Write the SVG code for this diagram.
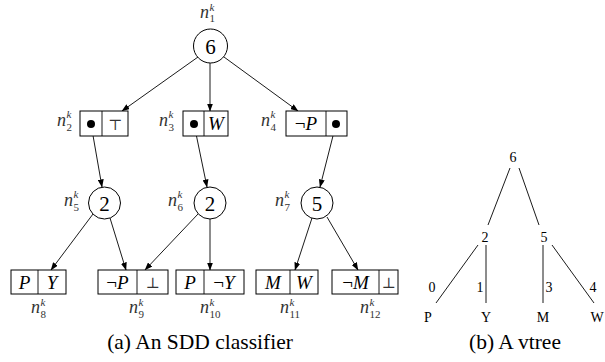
<svg xmlns="http://www.w3.org/2000/svg" width="605" height="362" viewBox="0 0 605 362">
<style>
text{font-family:"Liberation Serif","Times New Roman","DejaVu Serif",serif}
.box{fill:#fff;stroke:#000;stroke-width:1}
.circ{fill:#fff;stroke:#000;stroke-width:1}
.dot{fill:#000}
.num{font-size:21px;text-anchor:middle;fill:#000}
.cell{font-size:19px;font-style:italic;text-anchor:middle;fill:#000}
.sym{font-family:"DejaVu Serif",serif;font-size:15px;text-anchor:middle;fill:#333}
.n{font-size:18px;font-style:italic;fill:#333}
.s{font-size:11px;fill:#333}
.sk{font-size:11px;font-style:italic;fill:#333}
.cap{font-size:21.5px;text-anchor:middle;fill:#000}
.vt{font-size:14px;text-anchor:middle;fill:#000}
.edge{stroke:#000;stroke-width:0.9;fill:none}
.vedge{stroke:#000;stroke-width:0.9;fill:none}
</style>
<defs>
<marker id="ah" markerWidth="8" markerHeight="6" refX="7.5" refY="3" orient="auto" markerUnits="userSpaceOnUse">
<path d="M0,0 L8,3 L0,6 z" fill="#000"/>
</marker>
</defs>

<g id="connectors">
<line class="edge" x1="198" y1="57" x2="122" y2="111" marker-end="url(#ah)"/>
<line class="edge" x1="210" y1="63" x2="210" y2="111" marker-end="url(#ah)"/>
<line class="edge" x1="224" y1="57" x2="298" y2="111" marker-end="url(#ah)"/>
<line class="edge" x1="91" y1="124" x2="102" y2="187" marker-end="url(#ah)"/>
<line class="edge" x1="194" y1="124" x2="207" y2="187" marker-end="url(#ah)"/>
<line class="edge" x1="336" y1="124" x2="320" y2="187" marker-end="url(#ah)"/>
<line class="edge" x1="93" y1="214" x2="51" y2="270" marker-end="url(#ah)"/>
<line class="edge" x1="110" y1="218" x2="126" y2="270" marker-end="url(#ah)"/>
<line class="edge" x1="198" y1="214" x2="145" y2="270" marker-end="url(#ah)"/>
<line class="edge" x1="210" y1="219" x2="210" y2="270" marker-end="url(#ah)"/>
<line class="edge" x1="312" y1="218" x2="295" y2="270" marker-end="url(#ah)"/>
<line class="edge" x1="327" y1="217" x2="358" y2="270" marker-end="url(#ah)"/>
</g>

<g id="n1">
<circle class="circ" cx="210.5" cy="46" r="17"/>
<text class="num" x="210.5" y="53.5">6</text>
<text class="n" x="200" y="18">n</text><text class="sk" x="209.5" y="11">k</text><text class="s" x="209.5" y="22">1</text>
</g>

<g id="n2">
<rect class="box" x="80" y="111" width="48" height="25"/>
<line class="edge" x1="102" y1="111" x2="102" y2="136"/>
<circle class="dot" cx="91" cy="124" r="4"/>
<text class="sym" x="115" y="129.5">⊤</text>
<text class="n" x="57" y="126">n</text><text class="sk" x="66.5" y="118">k</text><text class="s" x="66.5" y="131">2</text>
</g>

<g id="n3">
<rect class="box" x="183" y="111" width="45" height="25"/>
<line class="edge" x1="204" y1="111" x2="204" y2="136"/>
<circle class="dot" cx="194" cy="124" r="4"/>
<text class="cell" x="216" y="130">W</text>
<text class="n" x="159" y="126">n</text><text class="sk" x="168.5" y="118">k</text><text class="s" x="168.5" y="131">3</text>
</g>

<g id="n4">
<rect class="box" x="286" y="111" width="61" height="25"/>
<line class="edge" x1="326" y1="111" x2="326" y2="136"/>
<circle class="dot" cx="336" cy="124" r="4"/>
<text class="cell" x="306" y="130"><tspan font-style="normal">¬</tspan>P</text>
<text class="n" x="261" y="126">n</text><text class="sk" x="270.5" y="118">k</text><text class="s" x="270.5" y="131">4</text>
</g>

<g id="n5">
<circle class="circ" cx="104.5" cy="203" r="16"/>
<text class="num" x="104.5" y="210.5">2</text>
<text class="n" x="64" y="206">n</text><text class="sk" x="73.5" y="198">k</text><text class="s" x="73.5" y="211">5</text>
</g>

<g id="n6">
<circle class="circ" cx="210" cy="203" r="16"/>
<text class="num" x="210" y="210.5">2</text>
<text class="n" x="168" y="206">n</text><text class="sk" x="177.5" y="198">k</text><text class="s" x="177.5" y="211">6</text>
</g>

<g id="n7">
<circle class="circ" cx="317" cy="203" r="16"/>
<text class="num" x="317" y="210.5">5</text>
<text class="n" x="275" y="206">n</text><text class="sk" x="284.5" y="198">k</text><text class="s" x="284.5" y="211">7</text>
</g>

<g id="n8">
<rect class="box" x="11" y="270" width="55" height="24"/>
<line class="edge" x1="38" y1="270" x2="38" y2="294"/>
<text class="cell" x="24.5" y="289">P</text>
<text class="cell" x="52" y="289">Y</text>
<text class="n" x="31" y="313">n</text><text class="sk" x="40.5" y="306">k</text><text class="s" x="40.5" y="318">8</text>
</g>

<g id="n9">
<rect class="box" x="98" y="270" width="70" height="24"/>
<line class="edge" x1="137" y1="270" x2="137" y2="294"/>
<text class="cell" x="117.5" y="289"><tspan font-style="normal">¬</tspan>P</text>
<text class="sym" x="152.5" y="288">⊥</text>
<text class="n" x="129" y="313">n</text><text class="sk" x="138.5" y="306">k</text><text class="s" x="138.5" y="318">9</text>
</g>

<g id="n10">
<rect class="box" x="176" y="270" width="68" height="24"/>
<line class="edge" x1="204" y1="270" x2="204" y2="294"/>
<text class="cell" x="190" y="289">P</text>
<text class="cell" x="224" y="289"><tspan font-style="normal">¬</tspan>Y</text>
<text class="n" x="200" y="313">n</text><text class="sk" x="209.5" y="306">k</text><text class="s" x="209.5" y="318">10</text>
</g>

<g id="n11">
<rect class="box" x="256" y="270" width="62" height="24"/>
<line class="edge" x1="290" y1="270" x2="290" y2="294"/>
<text class="cell" x="273" y="289">M</text>
<text class="cell" x="304" y="289">W</text>
<text class="n" x="280" y="313">n</text><text class="sk" x="289.5" y="306">k</text><text class="s" x="289.5" y="318">11</text>
</g>

<g id="n12">
<rect class="box" x="332" y="270" width="66" height="24"/>
<line class="edge" x1="379" y1="270" x2="379" y2="294"/>
<text class="cell" x="355.5" y="289"><tspan font-style="normal">¬</tspan>M</text>
<text class="sym" x="388.5" y="288">⊥</text>
<text class="n" x="360" y="313">n</text><text class="sk" x="369.5" y="306">k</text><text class="s" x="369.5" y="318">12</text>
</g>

<text class="cap" x="200" y="349">(a) An SDD classifier</text>

<g id="vtree">
<line class="vedge" x1="510" y1="168" x2="488" y2="225"/>
<line class="vedge" x1="519" y1="168" x2="539" y2="225"/>
<line class="vedge" x1="478" y1="245" x2="436" y2="303"/>
<line class="vedge" x1="486" y1="245" x2="486" y2="303"/>
<line class="vedge" x1="543" y1="245" x2="543" y2="303"/>
<line class="vedge" x1="552" y1="245" x2="594" y2="303"/>
<text class="vt" x="513" y="162">6</text>
<text class="vt" x="485" y="242">2</text>
<text class="vt" x="544" y="242">5</text>
<text class="vt" x="432" y="292">0</text>
<text class="vt" x="480" y="292">1</text>
<text class="vt" x="549" y="292">3</text>
<text class="vt" x="593" y="292">4</text>
<text class="vt" x="428" y="322">P</text>
<text class="vt" x="486" y="322">Y</text>
<text class="vt" x="543" y="322">M</text>
<text class="vt" x="597" y="322">W</text>
</g>

<text class="cap" x="515" y="349">(b) A vtree</text>
</svg>
